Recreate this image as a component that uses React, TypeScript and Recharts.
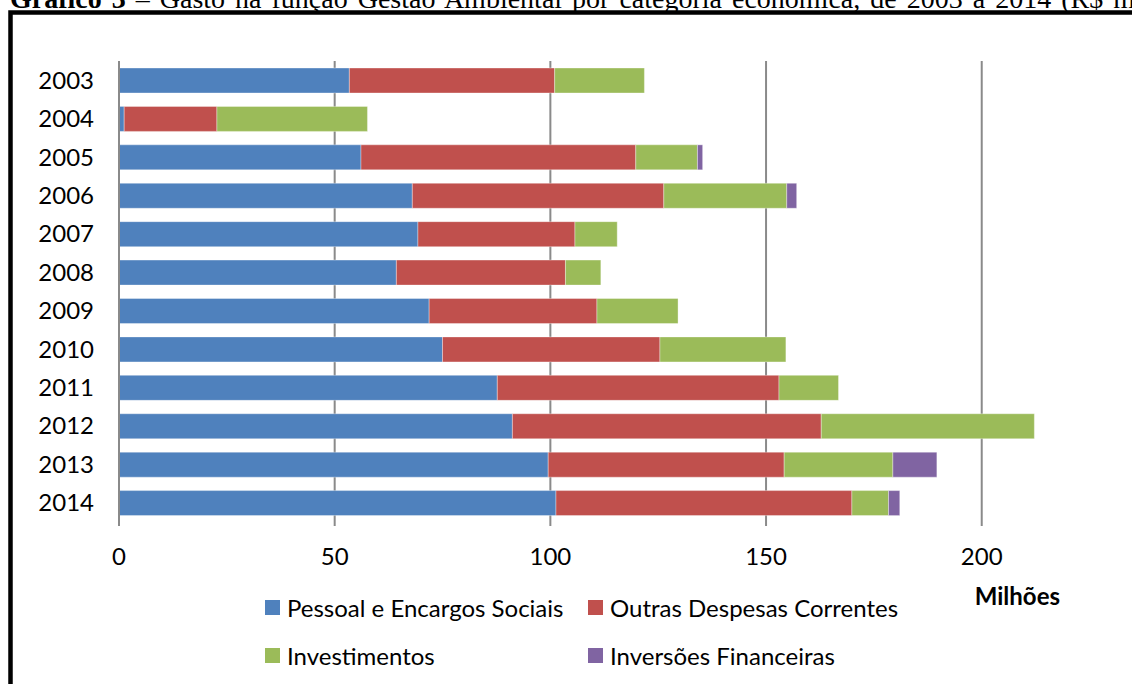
import React from "react";
import {
  BarChart,
  Bar,
  XAxis,
  YAxis,
  CartesianGrid,
  Legend,
} from "recharts";

// anos (eixo de categorias) e gasto por categoria econômica, em R$ milhões
const years = ["2003", "2004", "2005", "2006", "2007", "2008", "2009", "2010", "2011", "2012", "2013", "2014"];
const pessoal = [53.4, 1.2, 56.1, 68.0, 69.3, 64.3, 71.9, 75.0, 87.7, 91.2, 99.5, 101.3];
const outras = [47.6, 21.5, 63.7, 58.3, 36.4, 39.2, 38.9, 50.4, 65.3, 71.6, 54.7, 68.6];
const investimentos = [20.8, 34.9, 14.3, 28.5, 9.8, 8.2, 18.8, 29.2, 13.8, 49.4, 25.2, 8.5];
const inversoes = [0, 0, 1.2, 2.3, 0, 0, 0, 0, 0, 0, 10.2, 2.6];
const xTicks = [0, 50, 100, 150, 200];
const xMax = 220;

const data = years.map((year, i) => ({
  year,
  pessoal: pessoal[i],
  outras: outras[i],
  investimentos: investimentos[i],
  inversoes: inversoes[i],
}));

const FONT = "Lato, 'Noto Sans', sans-serif";
const GRID = "#8a8a8a";
const seriesOrder = ["pessoal", "outras", "investimentos", "inversoes"];

// linhas de grade só nos ticks (sem a linha na borda direita)
function gridX(p: any): number[] {
  const sc = p?.xAxis?.scale;
  if (typeof sc === "function") return xTicks.map((t) => sc(t));
  const off = p?.offset || {};
  return xTicks.map((t) => off.left + (t / xMax) * off.width);
}

function LegendBox(props: any) {
  // o layout vertical inverte a ordem; repõe a ordem das séries
  const items = [...(props.payload || [])].sort(
    (a: any, b: any) => seriesOrder.indexOf(a.dataKey) - seriesOrder.indexOf(b.dataKey)
  );
  return (
    <div
      style={{
        display: "grid",
        gridTemplateColumns: "323px 323px",
        gridAutoRows: "48px",
        fontFamily: FONT,
        fontSize: 24,
        color: "#000",
      }}
    >
      {items.map((it: any) => (
        <div key={it.value} style={{ display: "flex", alignItems: "center" }}>
          <span
            style={{
              display: "inline-block",
              width: 15,
              height: 15,
              background: it.color,
              marginRight: 7,
            }}
          />
          <span>{it.value}</span>
        </div>
      ))}
    </div>
  );
}

function UnitLabel(props: any) {
  const vb = props.viewBox || {};
  return (
    <text
      x={vb.x + vb.width - 8}
      y={vb.y + vb.height + 43}
      textAnchor="end"
      fontFamily={FONT}
      fontSize={24}
      fontWeight="bold"
      fill="#000"
    >
      Milhões
    </text>
  );
}

export default function App() {
  return (
    <div
      style={{
        position: "absolute",
        left: 0,
        top: 0,
        width: 1132,
        height: 684,
        overflow: "hidden",
        background: "#fff",
      }}
    >
      <svg
        width={1132}
        height={684}
        style={{ position: "absolute", left: 0, top: 0 }}
      >
        <text
          x={10}
          y={8}
          fontFamily="'Liberation Serif', serif"
          fontSize={28}
          fill="#000"
          style={{ wordSpacing: 3 }}
        >
          <tspan fontWeight="bold">Gráfico 3</tspan> – Gasto na função Gestão Ambiental por
          categoria econômica, de 2003 a 2014 (R$ milhões)
        </text>
        <rect x={10.5} y={12.5} width={1300} height={900} fill="none" stroke="#000" strokeWidth={4.5} />
      </svg>

      <div style={{ position: "absolute", left: 0, top: 0 }}>
        <BarChart
          width={1132}
          height={684}
          data={data}
          layout="vertical"
          barSize={25}
          margin={{ top: 61, right: 64, bottom: 122, left: 0 }}
        >
          <CartesianGrid
            horizontal={false}
            stroke={GRID}
            strokeWidth={2}
            verticalCoordinatesGenerator={gridX}
          />
          <XAxis
            type="number"
            domain={[0, xMax]}
            ticks={xTicks}
            height={40}
            axisLine={false}
            tickLine={{ stroke: GRID, strokeWidth: 2 }}
            tickSize={4}
            tickMargin={22}
            tick={{ fontFamily: FONT, fontSize: 24, fill: "#000" }}
            label={<UnitLabel />}
          />
          <XAxis
            xAxisId="top"
            orientation="top"
            type="number"
            domain={[0, xMax]}
            ticks={xTicks}
            height={0}
            tick={false}
            tickLine={false}
            axisLine={{ stroke: GRID, strokeWidth: 2 }}
          />
          <YAxis
            type="category"
            dataKey="year"
            width={119}
            tickLine={false}
            tickSize={0}
            tickMargin={25}
            axisLine={{ stroke: GRID, strokeWidth: 2 }}
            tick={{ fontFamily: FONT, fontSize: 24, fill: "#000" }}
          />
          <Legend
            layout="horizontal"
            verticalAlign="middle"
            align="center"
            wrapperStyle={{ top: 583, left: 265, width: 660 }}
            content={<LegendBox />}
          />
          <Bar dataKey="pessoal" name="Pessoal e Encargos Sociais" stackId="a" fill="#4F81BD" stroke="#ffffff" strokeOpacity={0.35} isAnimationActive={false} />
          <Bar dataKey="outras" name="Outras Despesas Correntes" stackId="a" fill="#C0504D" stroke="#ffffff" strokeOpacity={0.35} isAnimationActive={false} />
          <Bar dataKey="investimentos" name="Investimentos" stackId="a" fill="#9BBB59" stroke="#ffffff" strokeOpacity={0.35} isAnimationActive={false} />
          <Bar dataKey="inversoes" name="Inversões Financeiras" stackId="a" fill="#8064A2" stroke="#ffffff" strokeOpacity={0.35} isAnimationActive={false} />
        </BarChart>
      </div>
    </div>
  );
}
